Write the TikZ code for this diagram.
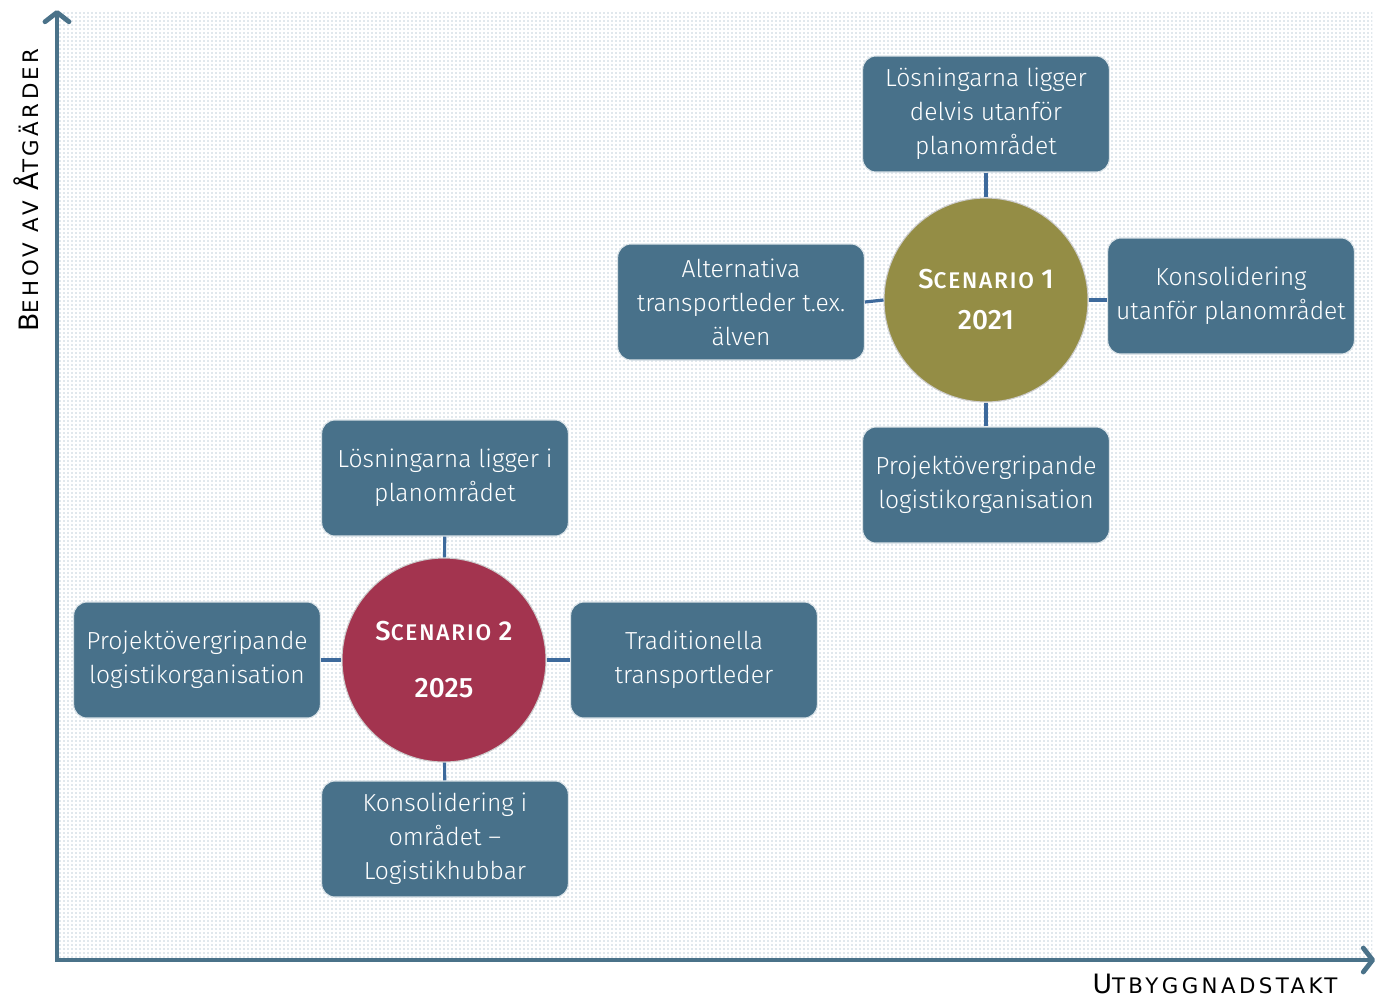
\documentclass[tikz,border=0pt]{standalone}
\usepackage{fontspec}
\setmainfont{Fira Sans}
\newfontfamily\lightfont{Fira Sans Light}
\newfontfamily\medfont{Fira Sans Medium}
\newfontfamily\labfont{DejaVu Sans}
\usetikzlibrary{patterns,arrows.meta}
\definecolor{boxc}{HTML}{48718A}
\definecolor{olivec}{HTML}{948D45}
\definecolor{redc}{HTML}{A3344F}
\definecolor{linkc}{HTML}{3D6A9C}
\definecolor{axisc}{HTML}{4A7289}
\definecolor{dotc}{HTML}{7F9AB3}
\newcommand{\Fs}[2]{{\fontsize{#1}{#1}\selectfont #2}}
\newcommand{\Ls}[3]{{\addfontfeature{LetterSpace=#2}\fontsize{#1}{#1}\selectfont #3}}
\begin{document}
\begin{tikzpicture}[x=0.75pt,y=-0.75pt,
  infobox/.style={rectangle, rounded corners=10pt, fill=boxc, draw=white!80!boxc, line width=0.8pt,
    minimum width=185pt, minimum height=87pt, align=center, text=white,
    font=\lightfont\fontsize{18.5}{25.5}\selectfont, inner sep=2pt},
  scen/.style={circle, draw=white!80!black, line width=0.8pt, minimum size=153pt, align=center,
    text=white, inner sep=0pt, font=\medfont},
  link/.style={draw=linkc, line width=2.4pt},
  axisline/.style={draw=axisc, line width=3.6pt, -{Straight Barb[length=7pt,width=18pt,line width=3.6pt,round]}},
  axislabel/.style={text=black, inner sep=0pt, font=\labfont}
]
\useasboundingbox (0,0) rectangle (1377,1001);
\fill[pattern=dots, pattern color=dotc] (57,12) rectangle (1372,958);

% axes
\coordinate (o) at (57,960);
\coordinate (ytop) at (57,10);
\coordinate (xend) at (1375,960);
\draw[axisline] (o) -- (ytop);
\draw[axisline] ([xshift=-1.5pt]o) -- (xend);

\node[axislabel, rotate=90] (ylab) at (26,190)
  {\Ls{20}{10}{B}\Ls{16}{16}{EHOV AV }\Ls{20}{10}{Å}\Ls{16}{16}{TGÄRDER}};
\node[axislabel] (xlab) at (1215,984)
  {\Ls{20}{10}{U}\Ls{16}{16}{TBYGGNADSTAKT}};

% scenario 1
\node[scen, fill=olivec] (s1) at (986,300)
  {\Ls{20.5}{8}{S}\Ls{17}{8}{CENARIO }\Ls{20.5}{0}{1}\\[15pt]\Fs{21}{2021}};
\node[infobox] (s1t) at (986,114) {Lösningarna ligger\\delvis utanför\\planområdet};
\node[infobox] (s1l) at (741,302) {Alternativa\\transportleder t.ex.\\älven};
\node[infobox] (s1r) at (1231,296) {Konsolidering\\utanför planområdet};
\node[infobox] (s1b) at (986,485) {Projektövergripande\\logistikorganisation};
\draw[link] (s1t) -- (s1);
\draw[link] (s1b) -- (s1);
\draw[link] (s1l.east) -- (s1.west);
\draw[link] (s1.east) -- (s1r.west |- s1.east);

% scenario 2
\node[scen, fill=redc] (s2) at (444,660)
  {\Ls{20.5}{8}{S}\Ls{17}{8}{CENARIO }\Ls{20.5}{0}{2}\\[27pt]\Fs{21}{2025}};
\node[infobox] (s2t) at (445,478) {Lösningarna ligger i\\planområdet};
\node[infobox] (s2l) at (197,660) {Projektövergripande\\logistikorganisation};
\node[infobox] (s2r) at (694,660) {Traditionella\\transportleder};
\node[infobox] (s2b) at (445,839) {Konsolidering i\\området –\\Logistikhubbar};
\draw[link] (s2t) -- (s2);
\draw[link] (s2b) -- (s2);
\draw[link] (s2l) -- (s2);
\draw[link] (s2) -- (s2r);
\end{tikzpicture}
\end{document}
